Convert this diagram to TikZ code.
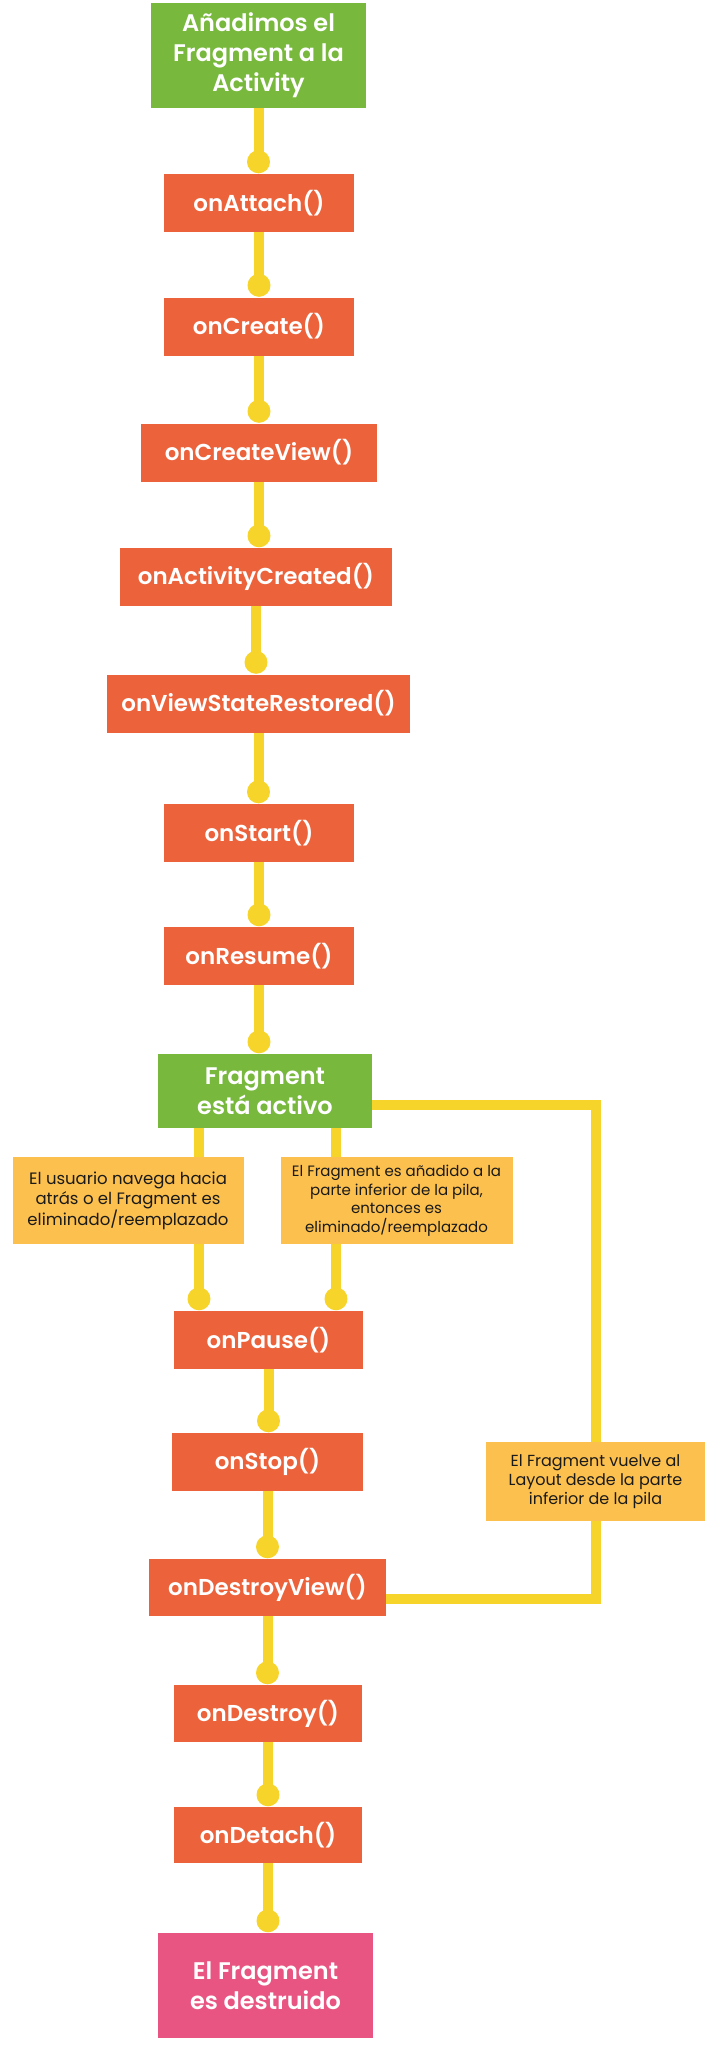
\documentclass[tikz,border=0pt]{standalone}
\usepackage{fontspec}
\setmainfont{Poppins}[BoldFont={Poppins SemiBold}]
\usetikzlibrary{calc,backgrounds}
\definecolor{cgreen}{HTML}{78B83D}
\definecolor{cred}{HTML}{EC623B}
\definecolor{cyellow}{HTML}{F6D42A}
\definecolor{cbox}{HTML}{FCC04F}
\definecolor{cpink}{HTML}{E95582}
\definecolor{ctext}{HTML}{1A1A1A}
\newcommand\joint[2]{\draw[link] (#1.south) -- ($(#1.south |- #2.north)+(0,12pt)$) node[dot]{};}
\begin{document}
\begin{tikzpicture}[x=1pt,y=-1pt,
  box/.style={rectangle,inner sep=0pt,align=center,text=white,font=\bfseries\fontsize{23}{29}\selectfont},
  meth/.style={box,fill=cred,minimum height=58pt},
  big/.style={box,font=\bfseries\fontsize{24}{30}\selectfont},
  note/.style={rectangle,inner sep=0pt,align=center,fill=cbox,text=ctext},
  link/.style={draw=cyellow,line width=10pt},
  dot/.style={circle,fill=cyellow,minimum size=23pt,inner sep=0pt}
]
\useasboundingbox (0,0) rectangle (717,2046);
\node[big,fill=cgreen,minimum width=215pt,minimum height=105pt] (start) at (258.5,55.5) {Añadimos el\\Fragment a la\\Activity};
\node[meth,minimum width=190pt] (attach) at (259,203) {onAttach()};
\node[meth,minimum width=190pt] (create) at (259,326.5) {onCreate()};
\node[meth,minimum width=236pt] (cview) at (259,452.5) {onCreateView()};
\node[meth,minimum width=272pt] (acreated) at (256,577) {onActivityCreated()};
\node[meth,minimum width=303pt] (vsr) at (258.5,703.5) {onViewStateRestored()};
\node[meth,minimum width=190pt] (start2) at (259,833) {onStart()};
\node[meth,minimum width=190pt] (resume) at (259,956) {onResume()};
\node[big,fill=cgreen,minimum width=214pt,minimum height=74pt] (active) at (265,1091) {Fragment\\está activo};
\node[note,minimum width=231pt,minimum height=87pt,font=\fontsize{16.5}{20.5}\selectfont] (lbox) at (128,1200.5) {El usuario navega hacia\\atrás o el Fragment es\\eliminado/reemplazado};
\node[note,minimum width=232pt,minimum height=87pt,font=\fontsize{15}{18.5}\selectfont] (mbox) at (396.5,1200.5) {El Fragment es añadido a la\\parte inferior de la pila,\\entonces es\\eliminado/reemplazado};
\node[meth,minimum width=189pt] (pause) at (268.5,1340) {onPause()};
\node[meth,minimum width=191pt] (stop) at (267.5,1462) {onStop()};
\node[note,minimum width=219pt,minimum height=79pt,font=\fontsize{16}{19}\selectfont] (rbox) at (595.5,1481.5) {El Fragment vuelve al\\Layout desde la parte\\inferior de la pila};
\node[meth,minimum width=237pt,minimum height=57pt] (dview) at (267.5,1587.5) {onDestroyView()};
\node[meth,minimum width=188pt,minimum height=57pt] (destroy) at (268,1713.5) {onDestroy()};
\node[meth,minimum width=188pt,minimum height=56pt] (detach) at (268,1835) {onDetach()};
\node[big,fill=cpink,minimum width=215pt,minimum height=105pt] (dead) at (265.5,1985.5) {El Fragment\\es destruido};
\coordinate (cl) at (199,1091);
\coordinate (cm) at (336,1091);
\begin{scope}[on background layer]
\joint{start}{attach}
\joint{attach}{create}
\joint{create}{cview}
\joint{cview}{acreated}
\joint{acreated}{vsr}
\joint{vsr}{start2}
\joint{start2}{resume}
\joint{resume}{active}
\draw[link] (cl |- active.south) -- (cl |- lbox.north);
\draw[link] (cl |- lbox.south) -- ($(cl |- pause.north)+(0,12pt)$) node[dot]{};
\draw[link] (cm |- active.south) -- (cm |- mbox.north);
\draw[link] (cm |- mbox.south) -- ($(cm |- pause.north)+(0,12pt)$) node[dot]{};
\draw[link] ([yshift=-14pt]active.east) -| (rbox.north);
\draw[link] (rbox.south) |- ([yshift=-11pt]dview.east);
\joint{pause}{stop}
\joint{stop}{dview}
\joint{dview}{destroy}
\joint{destroy}{detach}
\joint{detach}{dead}
\end{scope}
\end{tikzpicture}
\end{document}
